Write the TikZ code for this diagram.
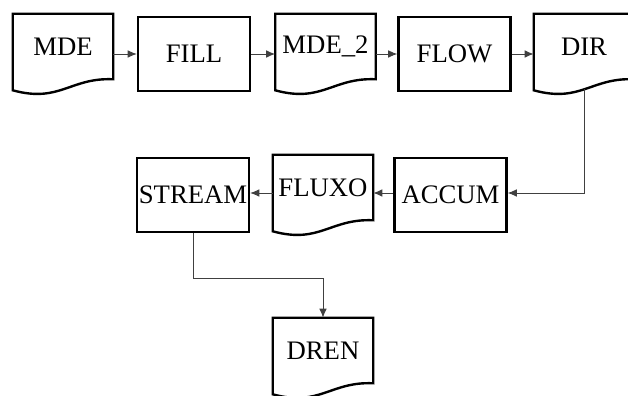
\documentclass[tikz,border=0pt]{standalone}
\usepackage{fontspec}
\setmainfont{Liberation Serif}
\usetikzlibrary{calc,positioning,arrows.meta}

\begin{document}
\begin{tikzpicture}[x=0.25mm,y=-0.25mm,
	font=\fontsize{19}{21}\selectfont,
	box/.style={draw,line width=1.7pt,inner sep=0pt,minimum width=28mm,minimum height=18.5mm},
	docbox/.style={inner sep=0pt,minimum width=25mm,minimum height=16.25mm},
	docline/.style={line width=1.7pt,line join=miter},
	conn/.style={draw=black!75,line width=0.7pt,-{Latex[length=6.5pt,width=5.5pt]}}]
	
	\clip (0,0) rectangle (628,396);
	
	%%%%%%%%%%%%%%%%%%%%%%%%%%%%%%%%%%%%%%%%%%%%%%%%%%%%%%
	
	\node [docbox] (mde) at (63,46.5) {MDE};
	\node [box] (fill) at (194,54) {FILL};
	\node [docbox] (mde2) at (325.5,46.5) {MDE\_2};
	\node [box] (flow) at (454.5,54) {FLOW};
	\node [docbox] (dir) at (584,46.5) {DIR};
	
	%%%%%%%%%%%%%%%%%%%%%%%%%%%%%%%%%%%%%%%%%%%%%%%%%%%%%%
	
	\node [box] (stream) at (193,195) {STREAM};
	\node [docbox] (fluxo) at (323,187.5) {FLUXO};
	\node [box] (accum) at (450.5,195) {ACCUM};
	
	\node [docbox] (dren) at (323,350.5) {DREN};
	
	%%%%%%%%%%%%%%%%%%%%%%%%%%%%%%%%%%%%%%%%%%%%%%%%%%%%%%
	
	\foreach \n in {mde,mde2,dir,fluxo,dren}
	\draw [docline] (\n.north west) -- (\n.north east) -- (\n.south east)
	.. controls ($(\n.south east)+(-43,-2)$) and ($(\n.south west)+(47,24)$) ..
	($(\n.south west)+(0,11)$) -- cycle;
	
	%%%%%%%%%%%%%%%%%%%%%%%%%%%%%%%%%%%%%%%%%%%%%%%%%%%%%%
	
	\coordinate (dir-out) at ($(dir.south)+(0,10)$);
	\coordinate (accum-in) at ($(accum.east)+(0,-2)$);
	\coordinate (fluxo-in) at ($(accum.west)+(0,-2)$);
	\coordinate (stream-in) at ($(stream.east)+(0,-2)$);
	
	\draw [conn] (fill.west -| mde.east) -- (fill.west);
	\draw [conn] (fill.east) -- (fill.east -| mde2.west);
	\draw [conn] (flow.west -| mde2.east) -- (flow.west);
	\draw [conn] (flow.east) -- (flow.east -| dir.west);
	%
	\draw [conn] (dir-out) |- (accum-in);
	\draw [conn] (fluxo-in) -- (fluxo-in -| fluxo.east);
	\draw [conn] (stream-in -| fluxo.west) -- (stream-in);
	\draw [conn] (stream.south) -- ++(0,45) -| (dren.north);
	
\end{tikzpicture}
\end{document}
